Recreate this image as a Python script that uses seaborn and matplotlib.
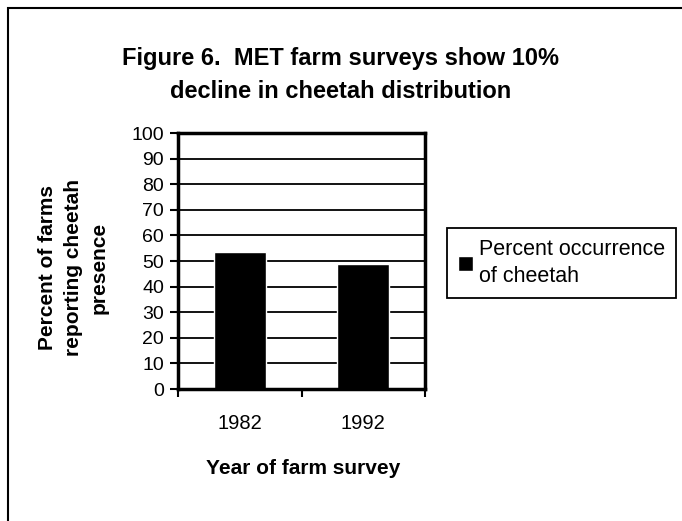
import seaborn as sns
import matplotlib.pyplot as plt
from matplotlib.patches import Rectangle

years = ['1982', '1992']
occurrence = [53.6, 48.9]
y_ticks = [0, 10, 20, 30, 40, 50, 60, 70, 80, 90, 100]

sns.set_style("white")
plt.rcParams['font.family'] = ['Liberation Sans', 'DejaVu Sans']
plt.rcParams['text.color'] = 'black'
plt.rcParams['axes.labelcolor'] = 'black'
plt.rcParams['xtick.color'] = 'black'
plt.rcParams['ytick.color'] = 'black'

fig = plt.figure(figsize=(6.82, 5.21), dpi=100)
W, H = 682, 521

# outer chart frame (runs off the right and bottom edge)
fig.patches.append(Rectangle((8 / W, -0.1), 1.1, (H - 8) / H + 0.1,
                             transform=fig.transFigure, fill=False,
                             edgecolor='black', linewidth=1.5))

ax = fig.add_axes([178 / W, 132 / H, 247 / W, 256 / H])
sns.barplot(x=years, y=occurrence, color='black', width=0.42, saturation=1,
            label='Percent occurrence\nof cheetah', ax=ax)

ax.set_xlim(-0.5, 1.5)
ax.set_ylim(0, 100)
ax.set_yticks(y_ticks)
ax.yaxis.grid(True, color='black', linewidth=1.3)
ax.set_axisbelow(True)
for s in ax.spines.values():
    s.set_visible(True)
    s.set_color('black')
    s.set_linewidth(2.5)

ax.tick_params(axis='y', direction='out', length=6, width=1.5, labelsize=14,
               left=True, pad=4)
ax.set_xticks([-0.5, 0.5, 1.5])
ax.set_xticklabels([])
ax.set_xticks([0, 1], minor=True)
ax.set_xticklabels(years, minor=True)
ax.tick_params(axis='x', which='major', direction='out', length=6, width=1.5,
               bottom=True)
ax.tick_params(axis='x', which='minor', length=0, labelsize=14.5, pad=18)

ax.set_xlabel('Year of farm survey', fontsize=15, fontweight='bold')
ax.xaxis.set_label_coords(0.506, -0.275)
ax.set_ylabel('Percent of farms\nreporting cheetah\npresence', fontsize=15,
              fontweight='bold', linespacing=1.45)
ax.yaxis.set_label_coords(-0.282, 0.473)

fig.text(341 / W, 1 - 75 / H,
         'Figure 6.  MET farm surveys show 10%\ndecline in cheetah distribution',
         ha='center', va='center', fontsize=17, fontweight='bold',
         linespacing=1.52)

handles, labels = ax.get_legend_handles_labels()
leg = ax.legend(handles, labels, loc='upper left',
                bbox_to_anchor=(447 / W, 1 - 228 / H), bbox_transform=fig.transFigure,
                borderaxespad=0, fancybox=False, edgecolor='black', fontsize=15.5,
                handlelength=0.7, handleheight=0.7, handletextpad=0.3,
                borderpad=0.5, framealpha=1)
leg.get_frame().set_linewidth(1.3)
for t in leg.get_texts():
    t.set_linespacing(1.4)

fig.savefig('out.png', dpi=100)
